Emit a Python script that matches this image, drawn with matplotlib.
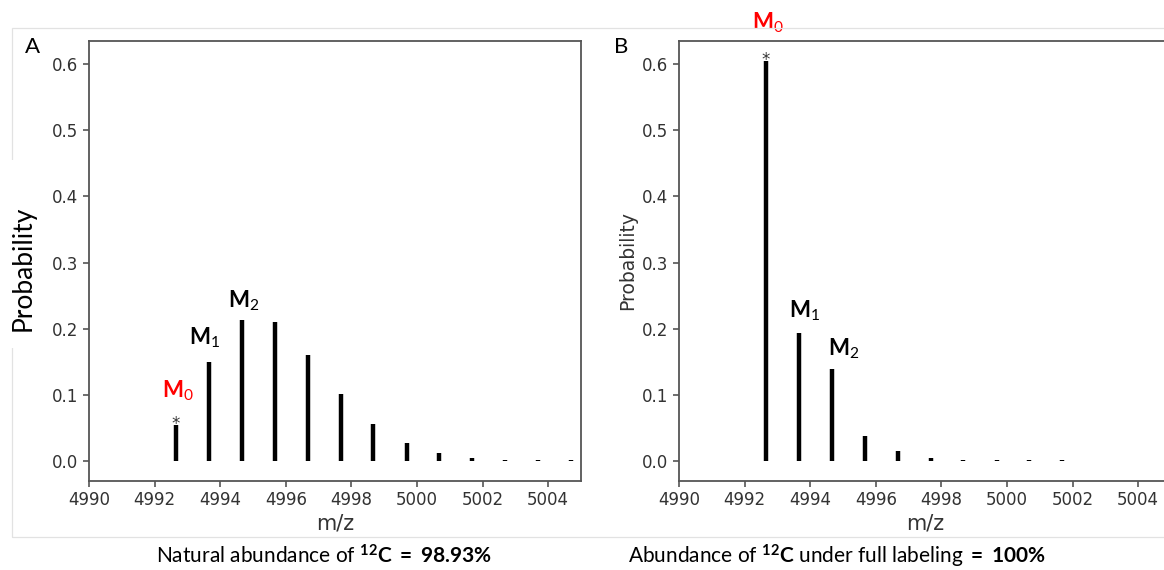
import matplotlib
matplotlib.use("Agg")
import matplotlib.pyplot as plt
from matplotlib.patches import Rectangle

plt.rcParams["mathtext.fontset"] = "custom"
plt.rcParams["mathtext.rm"] = "Lato"
plt.rcParams["mathtext.bf"] = "Lato:bold"
plt.rcParams["mathtext.it"] = "Lato:italic"

# isotope peaks, natural abundance
mz_natural = [4992.65, 4993.66, 4994.66, 4995.66, 4996.67, 4997.67, 4998.67,
              4999.68, 5000.68, 5001.68, 5002.69, 5003.69, 5004.69]
prob_natural = [0.0545, 0.1505, 0.214, 0.2105, 0.1605, 0.1015, 0.0555,
                0.028, 0.012, 0.005, 0.0015, 0.0013, 0.0012]

# isotope peaks, full 12C labeling
mz_labeled = [4992.65, 4993.66, 4994.66, 4995.66, 4996.67, 4997.67, 4998.67,
              4999.68, 5000.68, 5001.68]
prob_labeled = [0.605, 0.193, 0.1395, 0.038, 0.0155, 0.005, 0.0015,
                0.0013, 0.0012, 0.0012]

peak_names = [r"$\mathbf{M}_\mathrm{0}$", r"$\mathbf{M}_\mathrm{1}$", r"$\mathbf{M}_\mathrm{2}$"]
peak_colors = ["#ff0000", "black", "black"]

W, H = 1164, 570
fig = plt.figure(figsize=(W / 100, H / 100), dpi=100)

# light frame around both panels
fig.patches.append(Rectangle((12 / W, 1 - 537 / H), 1.0, (537 - 28) / H,
                             transform=fig.transFigure, fill=False,
                             ec="#e2e2e2", lw=0.9))

ax_a = fig.add_axes([89 / W, 1 - 481 / H, 492 / W, 440 / H])
ax_b = fig.add_axes([679 / W, 1 - 481 / H, 492 / W, 440 / H])


def draw_panel(ax, mz, prob, offsets):
    ax.vlines(mz, 0, prob, color="black", lw=3.2)
    ax.set_xlim(4990, 5005)
    ax.set_ylim(-0.03, 0.635)
    ax.set_xticks(range(4990, 5005, 2))
    ax.set_yticks([0.0, 0.1, 0.2, 0.3, 0.4, 0.5, 0.6])
    ax.yaxis.set_major_formatter(matplotlib.ticker.FormatStrFormatter("%.1f"))
    for s in ax.spines.values():
        s.set_color("#555555")
        s.set_linewidth(1.3)
    ax.tick_params(labelsize=12, colors="#555555", labelcolor="#333333",
                   width=1.2, length=4)
    for lbl in ax.get_xticklabels() + ax.get_yticklabels():
        lbl.set_family("DejaVu Sans")
    ax.set_xlabel("m/z", fontsize=15, color="#333333", labelpad=3,
                  family="DejaVu Sans")
    # monoisotopic peak marker
    ax.annotate("*", (mz[0], prob[0]), xytext=(0, -3), textcoords="offset points",
                ha="center", va="baseline", fontsize=12, color="#333333")
    for i, (dx, dy) in enumerate(offsets):
        ax.annotate(peak_names[i], (mz[i], prob[i]), xytext=(dx, dy),
                    textcoords="offset points", ha="center", va="center",
                    fontsize=16, color=peak_colors[i], annotation_clip=False)


draw_panel(ax_a, mz_natural, prob_natural, [(1.5, 24.5), (-3, 17), (1, 13.5)])
draw_panel(ax_b, mz_labeled, prob_labeled, [(1.5, 27), (4, 16), (8.5, 14.5)])

ax_b.set_ylabel("Probability", fontsize=13.5, color="#333333", family="DejaVu Sans")

# large y label on the left panel, over a white patch
fig.patches.append(Rectangle((0, 1 - 348 / H), 38 / W, (348 - 160) / H,
                             transform=fig.transFigure, fc="white", ec="none"))
fig.text(23 / W, 1 - 268 / H, "Probability", rotation=90, ha="center",
         va="center", fontsize=19, family="Lato")

fig.text(25 / W, 1 - 53 / H, "A", fontsize=16, family="Lato", va="baseline")
fig.text(614 / W, 1 - 53 / H, "B", fontsize=16, family="Lato", va="baseline")

fig.text(324 / W, 1 - 564 / H,
         r"Natural abundance of $\mathbf{^{12}C}$ $\mathbf{{=}}$ $\mathbf{98.93\%}$",
         ha="center", va="baseline", fontsize=15, family="Lato")
fig.text(837 / W, 1 - 564 / H,
         r"Abundance of $\mathbf{^{12}C}$ under full labeling $\mathbf{{=}}$ $\mathbf{100\%}$",
         ha="center", va="baseline", fontsize=15, family="Lato")

fig.savefig("out.png", dpi=100)
